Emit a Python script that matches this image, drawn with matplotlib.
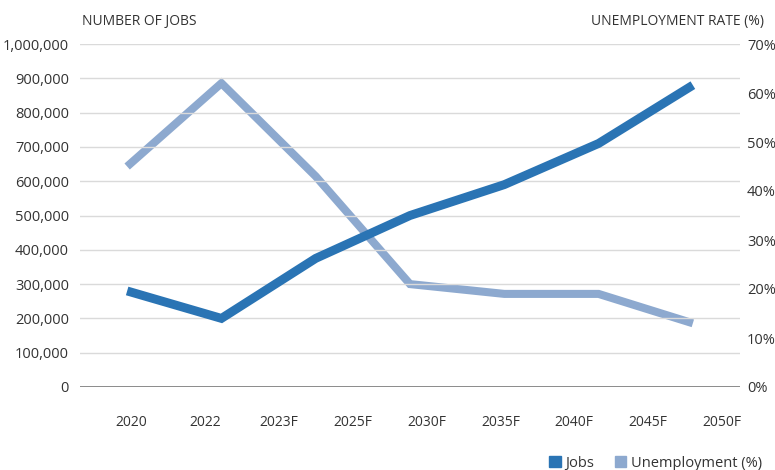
import matplotlib
matplotlib.use('Agg')
import matplotlib.pyplot as plt
import matplotlib.patches as mpatches
from matplotlib.ticker import FuncFormatter
import numpy as np

plt.rcParams['font.family'] = ['Open Sans', 'DejaVu Sans']

# data
periods = ["2020", "2022", "2023F", "2025F", "2030F", "2035F", "2040F"]
jobs = [280000, 200000, 375000, 500000, 590000, 710000, 880000]
unemployment = [45, 62, 43, 21, 19, 19, 13]
tick_labels = ["2020", "2022", "2023F", "2025F", "2030F", "2035F", "2040F", "2045F", "2050F"]

JOBS_C = "#2A74B4"
UNEMP_C = "#8DA9CF"
GRID_C = "#DADADA"
TEXT_C = "#333333"

fig = plt.figure(figsize=(7.75, 4.7), dpi=100)
fig.patch.set_facecolor("white")
ax = fig.add_axes([80/775, 83/470, 660/775, 343/470])
ax2 = ax.twinx()

x = np.arange(len(periods))
ax.plot(x, jobs, color=JOBS_C, lw=6.4, solid_capstyle='butt', solid_joinstyle='miter', zorder=4)
ax2.plot(x, unemployment, color=UNEMP_C, lw=5.8, solid_capstyle='butt', solid_joinstyle='miter', zorder=3)
ax.set_zorder(ax2.get_zorder() + 1)
ax.patch.set_visible(False)

ax.set_xlim(-0.5, 6.5)
ax.set_ylim(0, 1000000)
ax2.set_ylim(0, 70)
ax.set_yticks(np.arange(0, 1000001, 100000))
ax2.set_yticks(np.arange(0, 71, 10))
ax.yaxis.set_major_formatter(FuncFormatter(lambda v, p: f"{int(v):,}"))
ax2.yaxis.set_major_formatter(FuncFormatter(lambda v, p: f"{int(v)}%"))

ax.set_xticks(np.linspace(0.04, 6.31, len(tick_labels)))
ax.set_xticklabels(tick_labels)

for a in (ax, ax2):
    for s in a.spines.values():
        s.set_visible(False)
    a.tick_params(length=0, labelsize=10.5, colors=TEXT_C)
ax.tick_params(axis='x', pad=20, labelsize=10)
ax.tick_params(axis='y', pad=8)
ax2.tick_params(axis='y', pad=5)

ax.grid(axis='y', color=GRID_C, lw=1)
ax.set_axisbelow(True)
ax.axhline(0, color="#7A7A7A", lw=1.2, zorder=5)

fig.text(82/775, 1 - 21/470, "NUMBER OF JOBS", ha='left', va='center', fontsize=10, color=TEXT_C)
fig.text(764/775, 1 - 21/470, "UNEMPLOYMENT RATE (%)", ha='right', va='center', fontsize=10, color=TEXT_C)

handles = [mpatches.Patch(color=JOBS_C, label="Jobs"),
           mpatches.Patch(color=UNEMP_C, label="Unemployment (%)")]
fig.legend(handles=handles, loc='lower right', bbox_to_anchor=(1.0, -0.03), ncol=2,
           frameon=False, fontsize=10.5, handlelength=0.8, handleheight=0.8,
           handletextpad=0.3, columnspacing=1.4, labelcolor=TEXT_C)

plt.savefig("out.png", dpi=100, facecolor="white")
plt.close()
